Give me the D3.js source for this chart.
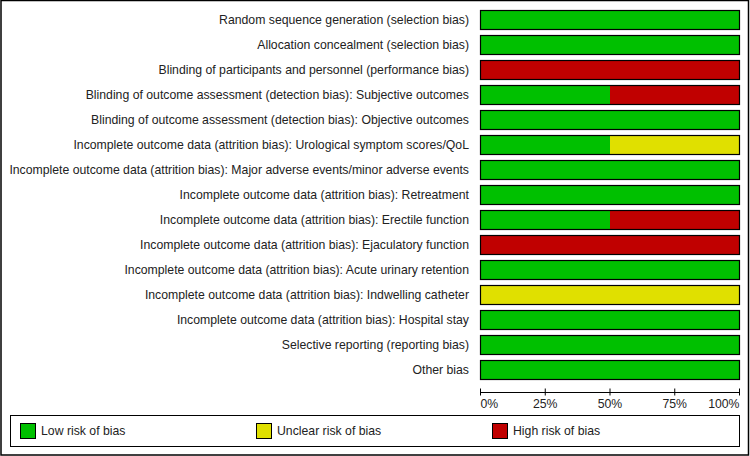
<!DOCTYPE html>
<html>
<head>
<meta charset="utf-8">
<script src="https://cdn.jsdelivr.net/npm/d3@7"></script>
<style>
  body { margin: 0; background: #fff; }
  svg text { font-family: "Liberation Sans", Arial, sans-serif; font-size: 12.25px; fill: #222; }
</style>
</head>
<body>
<div id="chart"></div>
<script>
const domains = [
  "Random sequence generation (selection bias)",
  "Allocation concealment (selection bias)",
  "Blinding of participants and personnel (performance bias)",
  "Blinding of outcome assessment (detection bias): Subjective outcomes",
  "Blinding of outcome assessment (detection bias): Objective outcomes",
  "Incomplete outcome data (attrition bias): Urological symptom scores/QoL",
  "Incomplete outcome data (attrition bias): Major adverse events/minor adverse events",
  "Incomplete outcome data (attrition bias): Retreatment",
  "Incomplete outcome data (attrition bias): Erectile function",
  "Incomplete outcome data (attrition bias): Ejaculatory function",
  "Incomplete outcome data (attrition bias): Acute urinary retention",
  "Incomplete outcome data (attrition bias): Indwelling catheter",
  "Incomplete outcome data (attrition bias): Hospital stay",
  "Selective reporting (reporting bias)",
  "Other bias"
];
// percentages per domain
const lowRisk     = [100, 100, 0, 50, 100, 50, 100, 100, 50, 0, 100, 0, 100, 100, 100];
const unclearRisk = [0, 0, 0, 0, 0, 50, 0, 0, 0, 0, 0, 100, 0, 0, 0];
const highRisk    = [0, 0, 100, 50, 0, 0, 0, 0, 50, 100, 0, 0, 0, 0, 0];
const ticks = [0, 25, 50, 75, 100];
const categories = ["Low risk of bias", "Unclear risk of bias", "High risk of bias"];
const colors = ["#00c000", "#e0e000", "#c00000"];

const w = 750;
const h = 456;

const svg = d3.select("#chart").append("svg").attr("width", w).attr("height", h);

// outer frame
svg.append("rect")
  .attr("x", 1).attr("y", 0.5).attr("width", w - 2.5).attr("height", h - 1.5)
  .attr("fill", "none").attr("stroke", "#000").attr("stroke-width", 1.5);

const x = d3.scaleLinear().domain([0, 100]).range([480.5, 739.5]);
const y = d3.scaleBand().domain(d3.range(domains.length)).range([7.5, 382.5]).paddingInner(0.24).paddingOuter(0.12);

const rows = domains.map((d, i) => ({ i, parts: [lowRisk[i], unclearRisk[i], highRisk[i]] }));
const segs = [];
rows.forEach((r) => {
  let acc = 0;
  r.parts.forEach((v, k) => {
    if (v > 0) segs.push({ i: r.i, k, x0: acc, x1: acc + v });
    acc += v;
  });
});

// segments
svg.selectAll("rect.seg")
  .data(segs)
  .enter()
  .append("rect")
  .attr("class", "seg")
  .attr("x", (d) => x(d.x0))
  .attr("y", (d) => y(d.i))
  .attr("width", (d) => x(d.x1) - x(d.x0))
  .attr("height", y.bandwidth())
  .attr("fill", (d) => colors[d.k]);

// bar outlines
svg.selectAll("rect.outline")
  .data(rows)
  .enter()
  .append("rect")
  .attr("class", "outline")
  .attr("x", x(0))
  .attr("y", (d) => y(d.i))
  .attr("width", x(100) - x(0))
  .attr("height", y.bandwidth())
  .attr("fill", "none")
  .attr("stroke", "#000")
  .attr("stroke-width", 1.2);

// labels
svg.selectAll("text.lab")
  .data(domains)
  .enter()
  .append("text")
  .attr("class", "lab")
  .attr("x", 469)
  .attr("y", (d, i) => y(i) + y.bandwidth() / 2 + 4)
  .attr("text-anchor", "end")
  .text((d) => d);

// axis
const axis = svg.append("g").attr("transform", "translate(0,392.5)");
axis.append("line").attr("x1", x(0)).attr("x2", x(100)).attr("stroke", "#000");
axis.selectAll("line.tick")
  .data(ticks)
  .enter()
  .append("line")
  .attr("class", "tick")
  .attr("x1", (d) => x(d)).attr("x2", (d) => x(d))
  .attr("y1", -4).attr("y2", 3)
  .attr("stroke", "#000");
axis.selectAll("text")
  .data(ticks)
  .enter()
  .append("text")
  .attr("x", (d) => x(d))
  .attr("y", 15)
  .attr("text-anchor", (d) => (d === 0 ? "start" : d === 100 ? "end" : "middle"))
  .text((d) => d + "%");

// legend
svg.append("rect")
  .attr("x", 10.5).attr("y", 415.5).attr("width", 729).attr("height", 31)
  .attr("fill", "none").attr("stroke", "#000");
const legX = [20, 256, 492];
const leg = svg.selectAll("g.leg")
  .data(categories)
  .enter()
  .append("g")
  .attr("class", "leg")
  .attr("transform", (d, i) => `translate(${legX[i]},423)`);
leg.append("rect")
  .attr("x", 0.5).attr("y", 0.5).attr("width", 15).attr("height", 15)
  .attr("fill", (d, i) => colors[i]).attr("stroke", "#000");
leg.append("text").attr("x", 21).attr("y", 12).text((d) => d);
</script>
</body>
</html>
